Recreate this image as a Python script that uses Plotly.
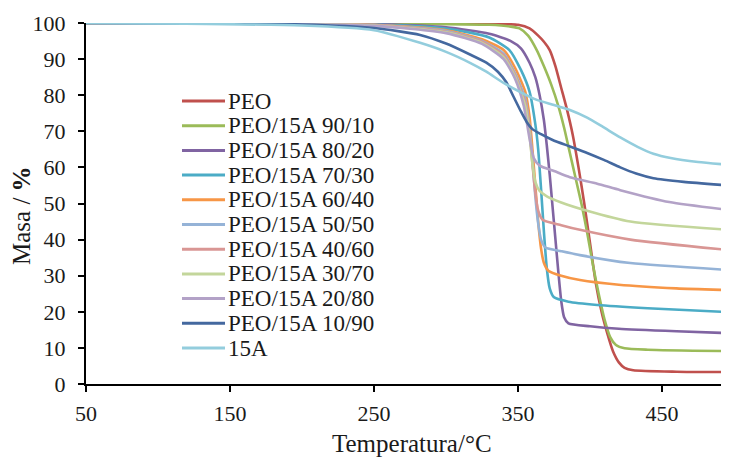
import plotly.graph_objects as go

# ---- data ----
names = ["PEO", "PEO/15A 90/10", "PEO/15A 80/20", "PEO/15A 70/30", "PEO/15A 60/40",
         "PEO/15A 50/50", "PEO/15A 40/60", "PEO/15A 30/70", "PEO/15A 20/80",
         "PEO/15A 10/90", "15A"]
colors = ["#C0504D", "#9BBB59", "#8064A2", "#4BACC6", "#F79646",
          "#95B3D7", "#D99694", "#C3D69B", "#B3A2C7", "#44689F", "#93CDDD"]

t_peo = [50, 200, 300, 340, 350, 358, 364, 368, 372, 376, 380, 384, 388, 392, 396, 400, 404, 408, 412, 416, 420, 424, 430, 460, 496.5]
m_peo = [100, 99.9, 99.8, 99.7, 99.5, 98.5, 96.5, 94.8, 92.5, 88, 82, 76, 69, 60, 50, 39, 28, 20, 14, 9, 6, 4.5, 3.8, 3.4, 3.3]

t_9010 = [50, 200, 300, 330, 345, 351, 357, 363, 368, 373, 378, 382, 386, 390, 394, 398, 402, 406, 410, 414, 418, 424, 440, 496.5]
m_9010 = [100, 99.9, 99.7, 99.5, 99, 98.5, 96.5, 92.5, 88, 83, 77, 71, 64, 57, 50, 42, 33, 25, 18, 13, 10.8, 9.9, 9.5, 9.1]

t_8020 = [50, 250, 300, 330, 345, 352, 358, 362, 365, 368, 370, 372, 374, 376, 378, 380, 382, 385, 400, 420, 460, 496.5]
m_8020 = [100, 99.7, 98.8, 97, 95, 93, 89, 85, 80, 73, 66, 58, 49, 40, 31, 23, 18.5, 16.8, 16, 15.3, 14.6, 14.1]

t_7030 = [50, 250, 300, 330, 344, 352, 358, 362, 364, 366, 368, 370, 372, 375, 385, 405, 440, 496.5]
m_7030 = [100, 99.6, 98.5, 96, 92.5, 87, 81, 72, 65, 54, 42, 32, 26.5, 24, 22.8, 21.9, 21, 19.9]

t_6040 = [50, 250, 300, 325, 340, 348, 355, 358, 360, 362, 364, 366, 368, 371, 380, 393, 420, 460, 496.5]
m_6040 = [100, 99.5, 98, 95.5, 92.5, 87.5, 81, 74, 65, 55, 45, 37.5, 33.5, 31.4, 30, 28.8, 27.5, 26.5, 26]

t_5050 = [50, 250, 300, 325, 340, 348, 355, 358, 360, 362, 364, 366, 369, 380, 393, 428, 496.5]
m_5050 = [100, 99.4, 97.8, 95, 91.5, 86, 79, 71, 62, 52, 44.5, 40, 37.8, 36.8, 35.7, 33.5, 31.6]

t_4060 = [50, 250, 300, 325, 340, 348, 355, 358, 360, 362, 364, 367, 380, 393, 428, 496.5]
m_4060 = [100, 99.4, 97.6, 94.8, 91, 85.5, 78, 70, 61, 53, 48, 45.5, 44, 42.7, 40, 37.1]

t_3070 = [50, 250, 300, 325, 340, 348, 355, 358, 360, 362, 365, 370, 380, 398, 428, 496.5]
m_3070 = [100, 99.3, 97.4, 94.5, 90.5, 85, 77, 69, 61, 56, 53.5, 52, 50.3, 48, 45, 42.7]

t_2080 = [50, 250, 300, 325, 340, 348, 354, 358, 361, 365, 375, 386, 405, 421, 455, 496.5]
m_2080 = [100, 99.2, 97.2, 94.2, 90, 84.5, 77, 68, 62.5, 60.5, 59, 57.3, 55.5, 53.7, 50.4, 48.2]

t_1090 = [50, 200, 250, 282, 300, 317, 328, 336, 342, 347, 352, 356, 360, 366, 374, 386, 398, 410, 421, 432, 444, 465, 496.5]
m_1090 = [100, 99.6, 98.6, 96.7, 94.3, 91.2, 89, 86.5, 83.5, 79.5, 75.5, 72.6, 70.6, 69.2, 67.6, 65.8, 64, 62, 60, 58.3, 57, 56, 55]

t_15a = [50, 200, 250, 282, 300, 317, 328, 340, 352, 363, 375, 386, 398, 409, 421, 433, 444, 456, 475, 496.5]
m_15a = [100, 99.3, 98, 94.5, 92, 88.9, 86.5, 83.4, 80.8, 78.7, 77.3, 75.9, 73.8, 71.2, 68.3, 65.7, 63.8, 62.6, 61.5, 60.7]

series_t = [t_peo, t_9010, t_8020, t_7030, t_6040, t_5050, t_4060, t_3070, t_2080, t_1090, t_15a]
series_m = [m_peo, m_9010, m_8020, m_7030, m_6040, m_5050, m_4060, m_3070, m_2080, m_1090, m_15a]

x_ticks = [50, 150, 250, 350, 450]
y_ticks = [0, 10, 20, 30, 40, 50, 60, 70, 80, 90, 100]

FONT = "Liberation Serif, Times New Roman, serif"
TXT = "#1a1a1a"

# page geometry: the page body adds an 8px offset, so margins compensate for it
W, H, OFF = 729, 457, 8
PL, PR, PT, PB = 86, 729, 23, 384          # plot area in page pixels
ML, MR, MT, MB = PL - OFF, W + OFF - PR, PT - OFF, H + OFF - PB
PW, PH = PR - PL, PB - PT


def px_to_paper_x(px):
    return (px - PL) / PW


def px_to_paper_y(py):
    return (PB - py) / PH


fig = go.Figure()
for name, color, tx, my in zip(names, colors, series_t, series_m):
    fig.add_trace(go.Scatter(x=tx, y=my, name=name, mode="lines",
                             line=dict(color=color, width=2.6, shape="spline", smoothing=0.6)))

# legend drawn as line samples + text (compact row spacing as in the reference)
LEG_X0, LEG_X1, LEG_TX = 182, 225, 226
LEG_Y0, LEG_DY = 101, 24.7
for i, (name, color) in enumerate(zip(names, colors)):
    py = LEG_Y0 + i * LEG_DY
    fig.add_shape(type="line", xref="paper", yref="paper",
                  x0=px_to_paper_x(LEG_X0), x1=px_to_paper_x(LEG_X1),
                  y0=px_to_paper_y(py), y1=px_to_paper_y(py),
                  line=dict(color=color, width=3))
    fig.add_annotation(xref="paper", yref="paper", x=px_to_paper_x(LEG_TX), y=px_to_paper_y(py),
                       xanchor="left", yanchor="middle", showarrow=False, text=name,
                       font=dict(family=FONT, size=23, color=TXT))

# axis titles placed where the reference has them
fig.add_annotation(xref="paper", yref="paper", x=px_to_paper_x(21), y=px_to_paper_y(216),
                   xanchor="center", yanchor="middle", showarrow=False, textangle=-90,
                   text="Masa / <b>%</b>", font=dict(family=FONT, size=25, color=TXT))
fig.add_annotation(xref="paper", yref="paper", x=px_to_paper_x(412), y=px_to_paper_y(443),
                   xanchor="center", yanchor="middle", showarrow=False,
                   text="Temperatura/°C", font=dict(family=FONT, size=25, color=TXT))

fig.update_layout(
    width=W, height=H,
    margin=dict(l=ML, r=MR, t=MT, b=MB, autoexpand=False),
    paper_bgcolor="white", plot_bgcolor="white",
    font=dict(family=FONT, color=TXT, size=22),
    showlegend=False,
)
fig.update_xaxes(range=[50, 496.5], tickvals=x_ticks, ticktext=[str(v) for v in x_ticks],
                 showgrid=False, zeroline=False, showline=True, linecolor="black", linewidth=2,
                 ticks="outside", ticklen=6, tickwidth=2, tickcolor="black", ticklabelstandoff=3,
                 tickfont=dict(family=FONT, size=22, color=TXT), automargin=False)
fig.update_yaxes(range=[0, 100], tickvals=y_ticks, ticktext=[str(v) for v in y_ticks],
                 showgrid=False, zeroline=False, showline=True, linecolor="black", linewidth=2,
                 ticks="outside", ticklen=6, tickwidth=2, tickcolor="black", ticklabelstandoff=8,
                 tickfont=dict(family=FONT, size=22, color=TXT), automargin=False)

fig.write_html("out.html")
